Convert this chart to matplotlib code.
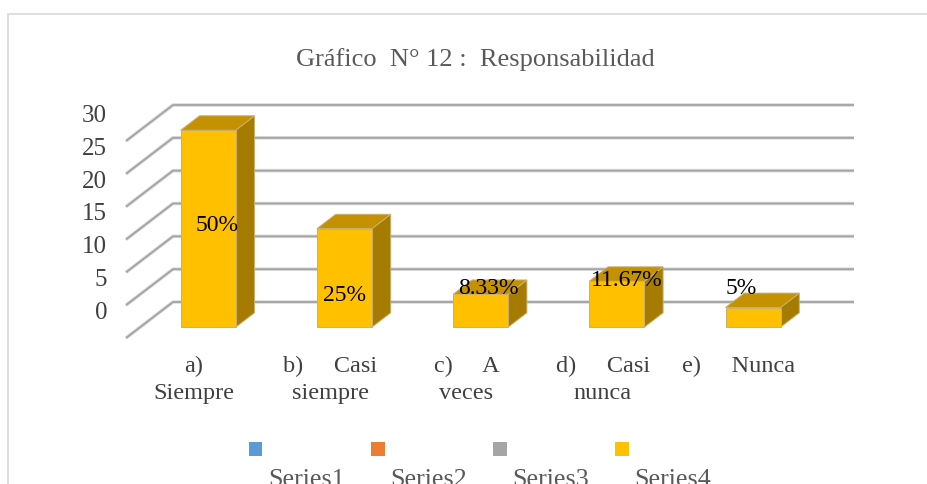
import matplotlib.pyplot as plt
from matplotlib.patches import Rectangle

plt.rcParams["font.family"] = ["Liberation Serif", "DejaVu Serif"]

categories = ["a)\nSiempre", "b)     Casi\nsiempre", "c)     A\nveces", "d)     Casi\nnunca", "e)     Nunca"]
values = [30, 15, 5, 7, 3]
percent_labels = ["50%", "25%", "8.33%", "11.67%", "5%"]
y_ticks = [0, 5, 10, 15, 20, 25, 30]
series_names = ["Series1", "Series2", "Series3", "Series4"]
series_colors = ["#5b9bd5", "#ed7d31", "#a5a5a5", "#ffc000"]

W, H = 927, 484
fig = plt.figure(figsize=(W / 100, H / 100), dpi=100)
ax = fig.add_axes([126 / W, (H - 338) / H, 681 / W, 197 / H])
ax.set_xlim(0, 5)
ax.set_ylim(0, 30)
for side in ax.spines.values():
    side.set_visible(False)
ax.patch.set_alpha(0)

# fake 3D: depth 0 is the front plane, depth 1 is the back wall
DX = 47 / (681 / 5)
DY = 36 / (197 / 30)


def project(x, y, depth):
    return x + depth * DX, y + depth * DY


def poly(points, color):
    xs = [p[0] for p in points]
    ys = [p[1] for p in points]
    ax.fill(xs, ys, facecolor=color, edgecolor="#c8b070", linewidth=0.7, clip_on=False, zorder=3)


# outer frame of the chart
fig.add_artist(Rectangle((8 / W, -0.1), 1, (H - 14) / H + 0.1, transform=fig.transFigure,
                         facecolor="none", edgecolor="#dedede", linewidth=1.4))

# gridlines, floor edge plus back wall
for v in y_ticks:
    a = project(0, v, 0)
    b = project(0, v, 1)
    c = project(5, v, 1)
    for lw, col in [(2.6, "#dcdcdc"), (1.3, "#a3a3a3")]:
        ax.plot([a[0], b[0], c[0]], [a[1], b[1], c[1]], color=col, linewidth=lw,
                clip_on=False, zorder=1, solid_capstyle="butt")
    ax.annotate(str(v), (0, v), xytext=(-19, 25), textcoords="offset pixels",
                ha="right", va="center", fontsize=18, color="#404040")

# bars
bar_w = 55 / (681 / 5)
d0, d1 = 0.3, 0.7
for i, v in enumerate(values):
    x0 = i + 0.5 - bar_w / 2
    x1 = i + 0.5 + bar_w / 2
    poly([project(x1, 0, d0), project(x1, 0, d1), project(x1, v, d1), project(x1, v, d0)], "#a67c00")
    poly([project(x0, v, d0), project(x1, v, d0), project(x1, v, d1), project(x0, v, d1)], "#c49100")
    poly([project(x0, 0, d0), project(x1, 0, d0), project(x1, v, d0), project(x0, v, d0)], "#ffc000")

# data labels, nudged by hand like in the source chart
label_shift = [(9, 3), (0, -18), (8, 22), (10, 24), (-12, 29)]
for i, v in enumerate(values):
    px, py = project(i + 0.5, v / 2, d0)
    ax.annotate(percent_labels[i], (px, py), xytext=label_shift[i], textcoords="offset pixels",
                ha="center", va="center", fontsize=17, color="black", zorder=5)

ax.set_xticks([i + 0.5 for i in range(len(categories))])
ax.set_xticklabels(categories, fontsize=17.5, color="#404040", linespacing=1.38)
ax.set_yticks([])
ax.tick_params(axis="x", length=0, pad=12.7)

fig.text(475 / W, (H - 60) / H, "Gráfico  N° 12 :  Responsabilidad", ha="center", va="center",
         fontsize=19, color="#595959")

# legend, markers above the names and cut by the bottom edge
for i, name in enumerate(series_names):
    fig.add_artist(Rectangle(((249 + 122 * i) / W, (H - 456) / H), 13.5 / W, 14 / H,
                             transform=fig.transFigure, facecolor=series_colors[i], edgecolor="none"))
    fig.text((306.5 + 122 * i) / W, (H - 486) / H, name, ha="center", va="baseline",
             fontsize=18.7, color="#595959")

fig.savefig("out.png", dpi=100)
